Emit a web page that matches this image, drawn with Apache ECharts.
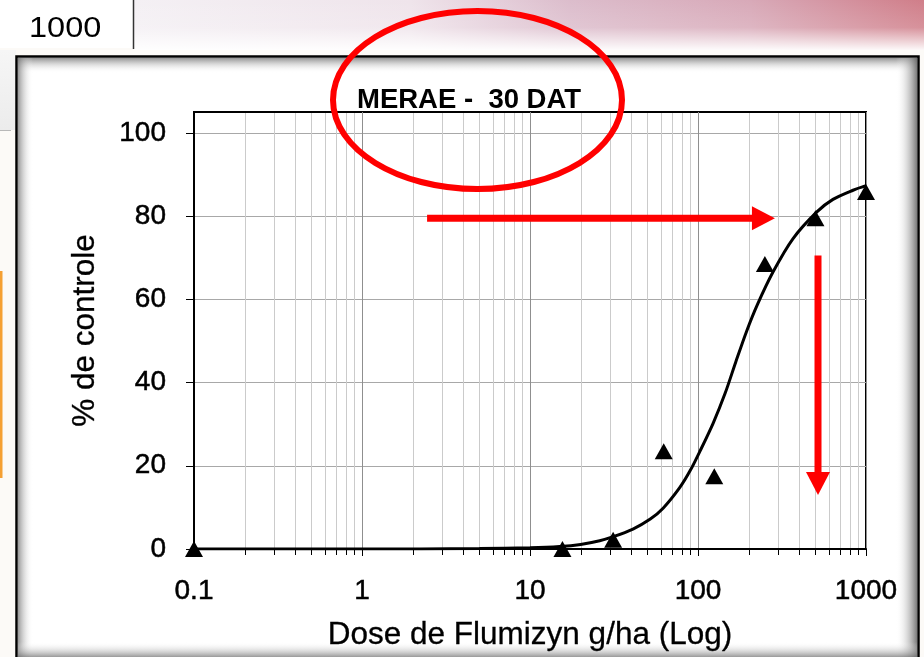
<!DOCTYPE html>
<html>
<head>
<meta charset="utf-8">
<script src="https://cdn.jsdelivr.net/npm/echarts@6/dist/echarts.min.js"></script>
<style>
  html, body { margin: 0; padding: 0; background: #ffffff; }
  #chart { width: 924px; height: 657px; }
</style>
</head>
<body>
<div id="chart"></div>
<script>
// Observed dose-response (triangles)
const doses = [0.1, 15.6, 31.25, 62.5, 125, 250, 500, 1000];
const control = [0, 0, 2.2, 23.5, 17.5, 68.5, 79.5, 85.8];

// Fitted response curve
const curveDoses = [0.1, 1, 5, 10, 15, 20, 26, 31, 41, 52, 62, 78, 90, 103, 123, 145, 168, 195, 225, 280, 368, 510, 636, 837, 1000];
const curveControl = [0, 0, 0.1, 0.3, 0.6, 1.1, 2.0, 2.9, 4.8, 7.2, 9.8, 14.8, 18.9, 23.6, 30.2, 37.4, 45, 52.4, 58.6, 66.6, 74.6, 81, 84, 86.2, 87.3];

// Axis ticks
const xTicks = [0.1, 1, 10, 100, 1000];
const yTicks = [0, 20, 40, 60, 80, 100];
const minorDoses = [
  0.2, 0.3, 0.4, 0.5, 0.6, 0.7, 0.8, 0.9,
  2, 3, 4, 5, 6, 7, 8, 9,
  20, 30, 40, 50, 60, 70, 80, 90,
  200, 300, 400, 500, 600, 700, 800, 900
];
const Y_MAX = 105;

// Red annotation arrows: start and tip, in dose / % units
const arrowStart = [[2.44, 79.5], [518, 70.5]];
const arrowEnd = [[287, 79.5], [518, 13]];

const FONT = "'Liberation Sans', Arial, sans-serif";

const chart = echarts.init(document.getElementById('chart'), null, { renderer: 'canvas' });

function lin(x0, y0, x1, y1, stops) {
  return new echarts.graphic.LinearGradient(x0, y0, x1, y1, stops);
}

function minorGridItem(params, api) {
  const x = api.value(0);
  const top = api.coord([x, Y_MAX]);
  const bot = api.coord([x, 0]);
  const px = Math.round(top[0]) + 0.5;
  return {
    type: 'group',
    children: [
      { type: 'line', shape: { x1: px, y1: top[1] + 1, x2: px, y2: bot[1] - 1 },
        style: { stroke: '#cbcbcb', lineWidth: 1 } },
      { type: 'line', shape: { x1: px, y1: bot[1] + 1, x2: px, y2: bot[1] + 6 },
        style: { stroke: '#000000', lineWidth: 1 } }
    ]
  };
}

function arrowItem(params, api) {
  const a = api.coord([api.value(0), api.value(1)]);
  const b = api.coord([api.value(2), api.value(3)]);
  const dx = b[0] - a[0], dy = b[1] - a[1];
  const len = Math.hypot(dx, dy);
  const ux = dx / len, uy = dy / len;
  const nx = -uy, ny = ux;
  const headLen = 23, headHalf = 12, shaftHalf = 3.5;
  const bx = b[0] - ux * headLen, by = b[1] - uy * headLen;
  const sx = bx + ux * 1, sy = by + uy * 1;
  return {
    type: 'group',
    children: [
      { type: 'polygon', shape: { points: [
          [a[0] + nx * shaftHalf, a[1] + ny * shaftHalf],
          [sx + nx * shaftHalf, sy + ny * shaftHalf],
          [sx - nx * shaftHalf, sy - ny * shaftHalf],
          [a[0] - nx * shaftHalf, a[1] - ny * shaftHalf]
        ] }, style: { fill: '#ff0000' } },
      { type: 'polygon', shape: { points: [
          [b[0], b[1]],
          [bx + nx * headHalf, by + ny * headHalf],
          [bx - nx * headHalf, by - ny * headHalf]
        ] }, style: { fill: '#ff0000' } }
    ]
  };
}

const labelText = {
  fontFamily: FONT, fontSize: 28, color: '#000',
  textBorderColor: '#000', textBorderWidth: 0.5
};
const nameText = {
  fontFamily: FONT, fontSize: 31.5, color: '#000',
  textBorderColor: '#000', textBorderWidth: 0.3
};

const option = {
  animation: false,
  backgroundColor: 'transparent',
  textStyle: { fontFamily: FONT },
  title: {
    text: 'MERAE -  30 DAT',
    left: 357,
    top: 86,
    padding: 0,
    textStyle: { fontFamily: FONT, fontSize: 27.5, fontWeight: 'bold', color: '#000' }
  },
  graphic: [
    // page backdrop
    { type: 'rect', z: -100, shape: { x: 0, y: 0, width: 924, height: 657 }, style: { fill: '#fcfaf7' } },
    // banner strip
    { type: 'rect', z: -99, shape: { x: 134, y: 0, width: 790, height: 50 },
      style: { fill: lin(0, 0, 1, 0, [
        { offset: 0, color: '#f4f0f4' }, { offset: 0.35, color: '#efe4eb' },
        { offset: 0.55, color: '#dcbdcc' }, { offset: 0.78, color: '#d8a9b8' },
        { offset: 1, color: '#d07e89' }]) } },
    { type: 'rect', z: -98, shape: { x: 134, y: 0, width: 790, height: 50 },
      style: { fill: lin(0, 0, 0, 1, [
        { offset: 0, color: 'rgba(255,255,255,0)' }, { offset: 0.55, color: 'rgba(255,255,255,0.15)' },
        { offset: 1, color: 'rgba(255,255,255,0.95)' }]) } },
    // top-left value box
    { type: 'rect', z: -97, shape: { x: 0, y: 0, width: 133, height: 48 }, style: { fill: '#ffffff' } },
    { type: 'line', z: -96, shape: { x1: 133.5, y1: 0, x2: 133.5, y2: 49 }, style: { stroke: '#333', lineWidth: 1.5 } },
    { type: 'text', z: -96, x: 29, y: 14, scaleX: 1.12,
      style: { text: '1000', fontFamily: FONT, fontSize: 29, fill: '#000' } },
    // left edge strip
    { type: 'rect', z: -97, shape: { x: 0, y: 50, width: 16, height: 80 },
      style: { fill: lin(0, 0, 0, 1, [{ offset: 0, color: '#f6f6f6' }, { offset: 1, color: '#ececec' }]) } },
    { type: 'line', z: -96, shape: { x1: 0, y1: 130.5, x2: 11, y2: 130.5 }, style: { stroke: '#b8b8b8', lineWidth: 1 } },
    { type: 'rect', z: -96, shape: { x: 0, y: 271, width: 2.5, height: 207 }, style: { fill: '#f5a033' } },
    // chart frame
    { type: 'rect', z: -90, shape: { x: 16.5, y: 56.5, width: 902, height: 620 },
      style: { fill: '#ffffff', stroke: '#000000', lineWidth: 2.5 } },
    { type: 'rect', z: -89, shape: { x: 18, y: 58, width: 899, height: 15 },
      style: { fill: lin(0, 0, 0, 1, [{ offset: 0, color: 'rgba(110,110,110,0.75)' }, { offset: 1, color: 'rgba(255,255,255,0)' }]) } },
    { type: 'rect', z: -89, shape: { x: 18, y: 58, width: 15, height: 600 },
      style: { fill: lin(0, 0, 1, 0, [{ offset: 0, color: 'rgba(110,110,110,0.7)' }, { offset: 1, color: 'rgba(255,255,255,0)' }]) } },
    { type: 'rect', z: -89, shape: { x: 896, y: 58, width: 21, height: 600 },
      style: { fill: lin(0, 0, 1, 0, [{ offset: 0, color: 'rgba(255,255,255,0)' }, { offset: 1, color: 'rgba(100,100,100,0.85)' }]) } },
    { type: 'rect', z: -89, shape: { x: 18, y: 642, width: 899, height: 15 },
      style: { fill: lin(0, 0, 0, 1, [{ offset: 0, color: 'rgba(255,255,255,0)' }, { offset: 1, color: 'rgba(110,110,110,0.7)' }]) } },
    // highlight ring around the title
    { type: 'ellipse', z: 200, shape: { cx: 477.5, cy: 100, rx: 144.5, ry: 89 },
      style: { fill: null, stroke: '#ff0000', lineWidth: 6 } }
  ],
  grid: {
    left: 194, top: 112, width: 672, height: 437,
    show: true, backgroundColor: '#ffffff', borderColor: '#000000', borderWidth: 2
  },
  xAxis: {
    type: 'log', logBase: 10, min: 0.1, max: 1000,
    name: 'Dose de Flumizyn g/ha (Log)', nameLocation: 'middle', nameGap: 70,
    nameTextStyle: nameText,
    axisLine: { lineStyle: { color: '#000', width: 2 } },
    axisTick: { show: true, length: 7, lineStyle: { color: '#000', width: 1 } },
    axisLabel: Object.assign({
      margin: 28,
      customValues: xTicks,
      formatter: v => (v < 1 ? Number(v).toFixed(1) : String(Math.round(v)))
    }, labelText),
    splitLine: { show: true, lineStyle: { color: '#8f8f8f', width: 1 } },
    minorTick: { show: false }, minorSplitLine: { show: false }
  },
  yAxis: {
    type: 'value', min: 0, max: Y_MAX, interval: 20,
    name: '% de controle', nameLocation: 'middle', nameGap: 93,
    nameTextStyle: nameText,
    axisLine: { show: true, lineStyle: { color: '#000', width: 2 } },
    axisTick: { show: true, length: 8, customValues: yTicks, lineStyle: { color: '#000', width: 1 } },
    axisLabel: Object.assign({ margin: 28, customValues: yTicks }, labelText),
    splitLine: { show: true, lineStyle: { color: '#a8a8a8', width: 1 } }
  },
  series: [
    {
      type: 'custom', name: 'minor grid', z: 1, clip: false, silent: true,
      renderItem: minorGridItem,
      data: minorDoses.map(d => [d]),
      encode: { x: 0 }
    },
    {
      type: 'line', name: 'curve', z: 3,
      data: curveDoses.map((d, i) => [d, curveControl[i]]),
      smooth: 0.3, showSymbol: false, symbol: 'none',
      lineStyle: { color: '#000', width: 3 }
    },
    {
      type: 'scatter', name: 'observed', z: 4,
      data: doses.map((d, i) => [d, control[i]]),
      symbol: 'triangle', symbolSize: [18, 16],
      itemStyle: { color: '#000', opacity: 1 }
    },
    {
      type: 'custom', name: 'arrows', z: 10, clip: false, silent: true,
      renderItem: arrowItem,
      data: arrowStart.map((s, i) => [s[0], s[1], arrowEnd[i][0], arrowEnd[i][1]]),
      encode: { x: [0, 2], y: [1, 3] }
    }
  ]
};

chart.setOption(option);
</script>
</body>
</html>
